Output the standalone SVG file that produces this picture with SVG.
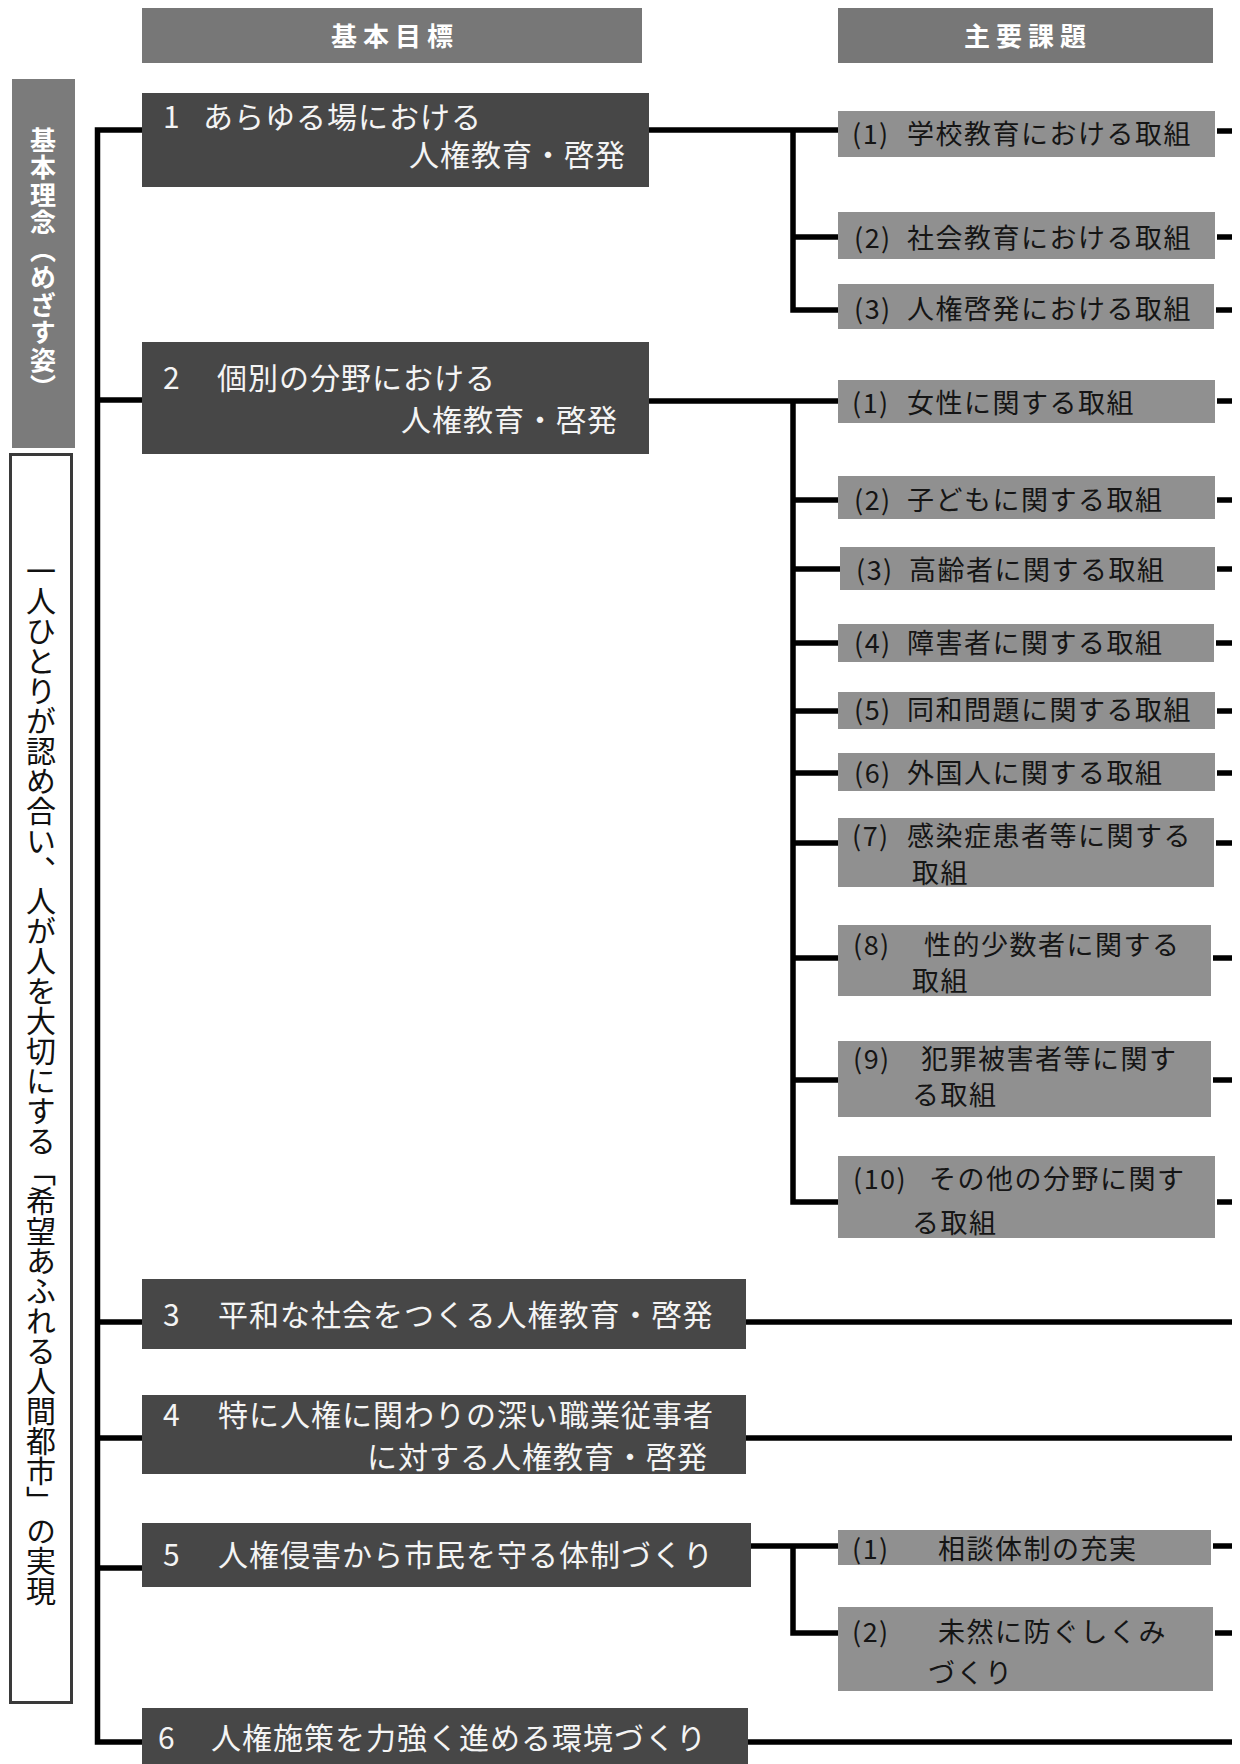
<svg xmlns="http://www.w3.org/2000/svg" width="1240" height="1764" viewBox="0 0 1240 1764">
<style>
text{font-family:"Noto Sans CJK JP","Noto Sans",sans-serif;dominant-baseline:central}
.hdr{fill:#777777}
.hdrt{fill:#ffffff;font-size:26px;font-weight:bold;letter-spacing:6px;text-anchor:middle}
.main{fill:#474747}
.mt{fill:#f4f4f4;font-size:30px;letter-spacing:1px}
.mte{fill:#f4f4f4;font-size:30px;letter-spacing:1px;text-anchor:end}
.sub{fill:#909090}
.st{fill:#151515;font-size:27px;letter-spacing:1.5px}
.ln{stroke:#000;stroke-width:5.5;fill:none;stroke-linejoin:miter;stroke-linecap:butt}
.vt{writing-mode:vertical-rl;dominant-baseline:auto}
</style>
<rect width="1240" height="1764" fill="#ffffff"/>

<g id="connectors">
<path class="ln" d="M142 130 H97.5 V1742 H142"/>
<path class="ln" d="M97.5 400 H142 M97.5 1322 H142 M97.5 1438 H142 M97.5 1568 H142"/>
<path class="ln" d="M649 130 H838 M793 130 V310 H838 M793 237 H838"/>
<path class="ln" d="M1217 131 H1232 M1217 237 H1232 M1216 310 H1232"/>
<path class="ln" d="M649 401 H838 M793 401 V1202 H838 M793 500 H838 M793 569 H840 M793 643 H838 M793 711 H838 M793 773 H838 M793 843 H838 M793 958 H838 M793 1080 H838"/>
<path class="ln" d="M1217 401 H1232 M1217 500 H1232 M1217 569 H1232 M1216 643 H1232 M1217 711 H1232 M1217 773 H1232 M1216 843 H1232 M1213 958 H1232 M1213 1080 H1232 M1217 1202 H1232"/>
<path class="ln" d="M746 1322 H1232 M746 1438 H1232 M748 1742 H1232"/>
<path class="ln" d="M751 1546 H838 M793 1546 V1633 H838 M1213 1546 H1232 M1215 1633 H1232"/>
</g>

<g id="header-goals"><rect class="hdr" x="142" y="8" width="500" height="55"/><text class="hdrt" x="395" y="34">基本目標</text></g>
<g id="header-issues"><rect class="hdr" x="838" y="8" width="375" height="55"/><text class="hdrt" x="1028" y="34">主要課題</text></g>

<g id="principle-label"><rect x="12" y="79" width="63" height="369" fill="#7b7b7b"/>
<text class="vt" x="43" y="127" fill="#ffffff" font-size="26px" font-weight="bold" letter-spacing="1.5px">基本理念（めざす姿）</text></g>
<g id="principle"><rect x="10.5" y="454.5" width="61" height="1248" fill="#ffffff" stroke="#3a3a3a" stroke-width="3"/>
<text class="vt" x="41" y="556" fill="#111111" font-size="30px">一人ひとりが認め合い、人が人を大切にする「希望あふれる人間都市」の実現</text></g>

<g id="goal1"><rect class="main" x="142" y="93" width="507" height="94"/>
<text class="mt" x="163" y="115">1</text><text class="mt" x="203" y="115">あらゆる場における</text>
<text class="mte" x="626" y="153">人権教育・啓発</text></g>
<g id="goal2"><rect class="main" x="142" y="342" width="507" height="112"/>
<text class="mt" x="163" y="376">2</text><text class="mt" x="217" y="376">個別の分野における</text>
<text class="mte" x="618" y="418">人権教育・啓発</text></g>
<g id="goal3"><rect class="main" x="142" y="1279" width="604" height="70"/>
<text class="mt" x="163" y="1313">3</text><text class="mt" x="218" y="1313">平和な社会をつくる人権教育・啓発</text></g>
<g id="goal4"><rect class="main" x="142" y="1395" width="604" height="79"/>
<text class="mt" x="163" y="1413">4</text><text class="mt" x="218" y="1413">特に人権に関わりの深い職業従事者</text>
<text class="mte" x="708" y="1455">に対する人権教育・啓発</text></g>
<g id="goal5"><rect class="main" x="142" y="1523" width="609" height="64"/>
<text class="mt" x="163" y="1553">5</text><text class="mt" x="218" y="1553">人権侵害から市民を守る体制づくり</text></g>
<g id="goal6"><rect class="main" x="142" y="1708" width="606" height="60"/>
<text class="mt" x="158" y="1736">6</text><text class="mt" x="211" y="1736">人権施策を力強く進める環境づくり</text></g>

<g id="issue1-1"><rect class="sub" x="838" y="111" width="377" height="46"/><text class="st" x="852" y="132">(1)</text><text class="st" x="907" y="132">学校教育における取組</text></g>
<g id="issue1-2"><rect class="sub" x="838" y="212" width="377" height="47"/><text class="st" x="854" y="236">(2)</text><text class="st" x="907" y="236">社会教育における取組</text></g>
<g id="issue1-3"><rect class="sub" x="838" y="284" width="376" height="45"/><text class="st" x="854" y="307">(3)</text><text class="st" x="907" y="307">人権啓発における取組</text></g>

<g id="issue2-1"><rect class="sub" x="838" y="380" width="377" height="43"/><text class="st" x="852" y="401">(1)</text><text class="st" x="907" y="401">女性に関する取組</text></g>
<g id="issue2-2"><rect class="sub" x="838" y="476" width="377" height="43"/><text class="st" x="854" y="498">(2)</text><text class="st" x="907" y="498">子どもに関する取組</text></g>
<g id="issue2-3"><rect class="sub" x="840" y="547" width="375" height="43"/><text class="st" x="856" y="568">(3)</text><text class="st" x="909" y="568">高齢者に関する取組</text></g>
<g id="issue2-4"><rect class="sub" x="838" y="624" width="376" height="38"/><text class="st" x="854" y="641">(4)</text><text class="st" x="907" y="641">障害者に関する取組</text></g>
<g id="issue2-5"><rect class="sub" x="838" y="692" width="377" height="37"/><text class="st" x="854" y="708">(5)</text><text class="st" x="907" y="708">同和問題に関する取組</text></g>
<g id="issue2-6"><rect class="sub" x="838" y="753" width="377" height="38"/><text class="st" x="854" y="771">(6)</text><text class="st" x="907" y="771">外国人に関する取組</text></g>
<g id="issue2-7"><rect class="sub" x="838" y="818" width="376" height="69"/><text class="st" x="852" y="834">(7)</text><text class="st" x="907" y="834">感染症患者等に関する</text><text class="st" x="912" y="871">取組</text></g>
<g id="issue2-8"><rect class="sub" x="838" y="925" width="373" height="71"/><text class="st" x="853" y="943" letter-spacing="7px">(8)</text><text class="st" x="924" y="943">性的少数者に関する</text><text class="st" x="912" y="979">取組</text></g>
<g id="issue2-9"><rect class="sub" x="838" y="1041" width="373" height="76"/><text class="st" x="853" y="1057" letter-spacing="6px">(9)</text><text class="st" x="921" y="1057">犯罪被害者等に関す</text><text class="st" x="912" y="1093">る取組</text></g>
<g id="issue2-10"><rect class="sub" x="838" y="1156" width="377" height="82"/><text class="st" x="853" y="1177">(10)</text><text class="st" x="929" y="1177">その他の分野に関す</text><text class="st" x="912" y="1221">る取組</text></g>

<g id="issue5-1"><rect class="sub" x="838" y="1530" width="373" height="35"/><text class="st" x="852" y="1547" letter-spacing="8px">(1)</text><text class="st" x="938" y="1547">相談体制の充実</text></g>
<g id="issue5-2"><rect class="sub" x="838" y="1607" width="375" height="84"/><text class="st" x="852" y="1630" letter-spacing="8px">(2)</text><text class="st" x="938" y="1630">未然に防ぐしくみ</text><text class="st" x="928" y="1671">づくり</text></g>
</svg>
